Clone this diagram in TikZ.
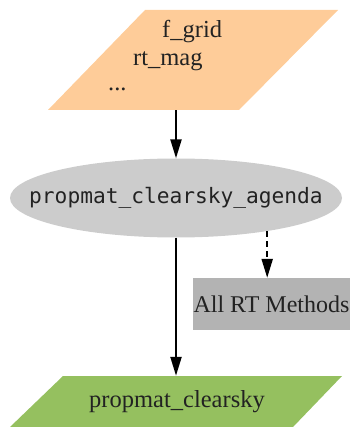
\documentclass[tikz,border=0pt]{standalone}
\usepackage{fontspec}
\setmainfont{Liberation Serif}
\newfontfamily\monofnt{DejaVu Sans Mono}
\usetikzlibrary{shapes.geometric,arrows.meta}
\definecolor{peach}{RGB}{254,204,153}
\definecolor{agendagray}{RGB}{204,204,204}
\definecolor{boxgray}{RGB}{179,179,179}
\definecolor{outgreen}{RGB}{149,192,95}
\definecolor{txt}{RGB}{34,34,34}
\tikzset{
  conn/.style={line width=2.2pt,-{Triangle[length=19pt,width=11pt]}},
  dashconn/.style={conn,dash pattern=on 6pt off 4pt},
  serift/.style={font=\fontsize{24.5}{28}\selectfont,text=txt,inner sep=0pt},
  agendanode/.style={ellipse,fill=agendagray,minimum width=332pt,minimum height=79pt,inner sep=0pt,font=\monofnt\fontsize{21.2}{24}\selectfont,text=txt},
  methodbox/.style={rectangle,fill=boxgray,minimum width=157pt,minimum height=52pt,inner sep=0pt,font=\fontsize{24}{27}\selectfont,text=txt},
}
\begin{document}
\begin{tikzpicture}[x=1pt,y=-1pt]
\useasboundingbox (0,0) rectangle (351,427);
% input parallelogram
\fill[peach] (145,10) -- (338,10) -- (239,110) -- (48,110) -- cycle;
\node[minimum height=100pt,minimum width=10pt,inner sep=0pt] (inp) at (193,60) {};
\node[serift,anchor=base west] (l1) at (162,38) {f\_grid};
\node[serift,anchor=base west] (l2) at (133,66) {rt\_mag};
\node[serift,anchor=base west] (l3) at (108,91) {...};
% agenda
\node[agendanode] (agenda) at (176,198) {\makebox[0pt]{propmat\_clearsky\_agenda}};
% methods box
\node[methodbox] (box) at (271.5,304) {\makebox[0pt]{All RT Methods}};
% output parallelogram
\fill[outgreen] (63,376) -- (342,376) -- (293,427) -- (10,427) -- cycle;
\node[serift,minimum height=51pt] (out) at (177,401.5) {propmat\_clearsky};
% connectors
\draw[conn] (agenda |- inp.south) -- (agenda.north);
\draw[dashconn] (agenda.-20) -- (agenda.-20 |- box.north);
\draw[conn] (agenda.south) -- (agenda.south |- out.north);
\end{tikzpicture}
\end{document}
